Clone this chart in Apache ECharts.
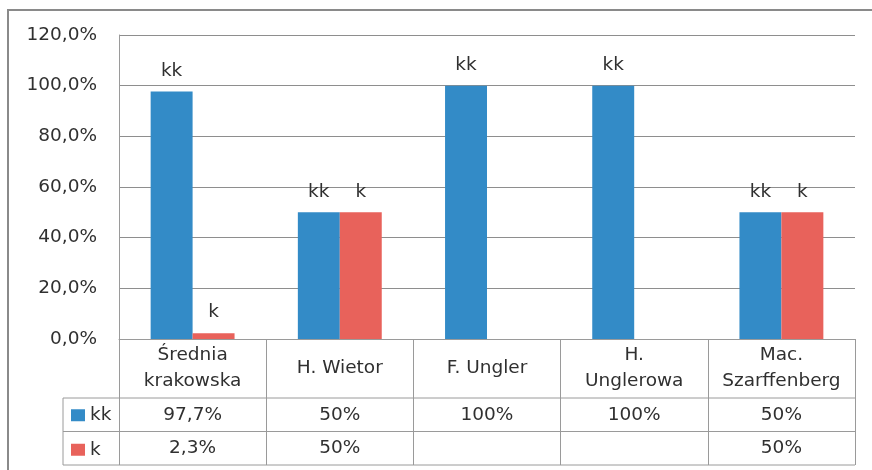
<!DOCTYPE html>
<html>
<head>
<meta charset="utf-8">
<script src="https://cdn.jsdelivr.net/npm/echarts@6/dist/echarts.min.js"></script>
<style>
  html, body { margin: 0; padding: 0; background: #fff; }
  #chart { width: 872px; height: 470px; }
</style>
</head>
<body>
<div id="chart"></div>
<script>
// Printers and their share of "kk" vs "k" forms
const categories = ['Średnia\nkrakowska', 'H. Wietor', 'F. Ungler', 'H.\nUnglerowa', 'Mac.\nSzarffenberg'];
const kkValues = [0.977, 0.5, 1.0, 1.0, 0.5];
const kValues = [0.023, 0.5, null, null, 0.5];
const seriesNames = ['kk', 'k'];
const yTicks = { min: 0, max: 1.2, interval: 0.2 };

const FONT = '"DejaVu Sans", "Open Sans", sans-serif';
const FS = 18.5;
const TEXT = '#303030';
const LINE = '#9a9a9a';
const BLUE = '#338bc7';
const RED = '#e8625b';

// grid geometry (the data table sits in the area below the plot)
const G = { left: 119, right: 17, top: 35, bottom: 131 };
const W = 872, H = 470;
const plotBottom = H - G.bottom;
const plotRight = W - G.right;
const rowTop = plotBottom + 59;   // top of the "kk" row
const rowH = 33.5;
const tableLeft = 63;

function pct(v) {
  if (v == null) return '';
  const p = Math.round(v * 1000) / 10;
  return (Number.isInteger(p) ? String(p) : p.toFixed(1).replace('.', ',')) + '%';
}

const chart = echarts.init(document.getElementById('chart'), null, { renderer: 'canvas' });

const hLines = [rowTop, rowTop + rowH, rowTop + 2 * rowH].map(y => ({
  type: 'line', silent: true,
  shape: { x1: tableLeft, y1: y, x2: plotRight, y2: y },
  style: { stroke: LINE, lineWidth: 1 }
}));

chart.setOption({
  animation: false,
  textStyle: { fontFamily: FONT },
  grid: { left: G.left, right: G.right, top: G.top, bottom: G.bottom, containLabel: false },
  legend: {
    data: seriesNames,
    orient: 'vertical',
    left: 71, top: rowTop + rowH / 2 - 9,
    padding: 0,
    itemWidth: 14, itemHeight: 12, itemGap: rowH - 18,
    icon: 'rect',
    textStyle: { fontFamily: FONT, fontSize: FS, color: TEXT, lineHeight: 18 },
    selectedMode: false
  },
  xAxis: [
    {
      type: 'category', data: categories, position: 'bottom',
      axisLine: { show: true, lineStyle: { color: LINE } },
      axisTick: { show: true, interval: 0, length: 59 + 2 * rowH, lineStyle: { color: LINE } },
      axisLabel: {
        interval: 0, margin: 29.5, verticalAlign: 'middle',
        fontFamily: FONT, fontSize: FS, color: TEXT, lineHeight: 26
      }
    },
    {
      type: 'category', data: kkValues.map(pct), position: 'bottom',
      axisLine: { show: false }, axisTick: { show: false },
      axisLabel: {
        interval: 0, margin: 59 + rowH / 2, verticalAlign: 'middle',
        fontFamily: FONT, fontSize: FS, color: TEXT
      }
    },
    {
      type: 'category', data: kValues.map(pct), position: 'bottom',
      axisLine: { show: false }, axisTick: { show: false },
      axisLabel: {
        interval: 0, margin: 59 + rowH * 1.5, verticalAlign: 'middle',
        fontFamily: FONT, fontSize: FS, color: TEXT
      }
    }
  ],
  yAxis: {
    type: 'value', min: yTicks.min, max: yTicks.max, interval: yTicks.interval,
    axisLine: { show: true, lineStyle: { color: LINE } },
    axisTick: { show: false },
    splitLine: { lineStyle: { color: '#8e8e8e', width: 1 } },
    axisLabel: {
      margin: 22, fontFamily: FONT, fontSize: FS, color: TEXT,
      formatter: v => (v * 100).toFixed(1).replace('.', ',') + '%'
    }
  },
  series: [
    {
      name: seriesNames[0], type: 'bar', data: kkValues,
      barGap: '0%', barCategoryGap: '43%',
      itemStyle: { color: BLUE },
      label: { show: true, position: 'top', distance: 11, formatter: seriesNames[0],
               fontFamily: FONT, fontSize: FS, color: TEXT }
    },
    {
      name: seriesNames[1], type: 'bar', data: kValues,
      barGap: '0%', barCategoryGap: '43%',
      itemStyle: { color: RED },
      label: { show: true, position: 'top', distance: 11, formatter: seriesNames[1],
               fontFamily: FONT, fontSize: FS, color: TEXT }
    }
  ],
  graphic: [
    // outer chart frame
    { type: 'rect', silent: true, shape: { x: 8, y: 10, width: W + 20, height: H + 20 },
      style: { fill: 'none', stroke: '#8a8a8a', lineWidth: 2 } },
    // table: legend column edge and row rules
    { type: 'line', silent: true,
      shape: { x1: tableLeft, y1: rowTop, x2: tableLeft, y2: rowTop + 2 * rowH },
      style: { stroke: LINE, lineWidth: 1 } },
    ...hLines
  ]
});
</script>
</body>
</html>
